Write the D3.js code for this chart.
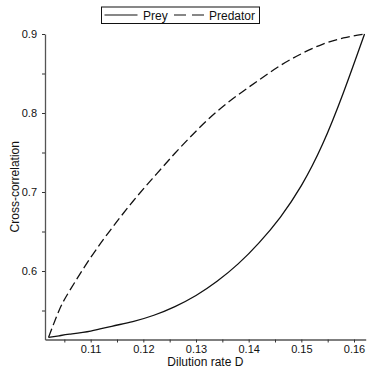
<!DOCTYPE html>
<html>
<head>
<meta charset="utf-8">
<script src="https://cdn.jsdelivr.net/npm/d3@7"></script>
<style>
  body { margin: 0; background: #fff; }
  text { font-family: 'Liberation Sans', Arial, Helvetica, sans-serif; fill: #111; }
</style>
</head>
<body>
<script>
// dilution rate D and cross-correlation values
const dilution = [0.102, 0.104, 0.106, 0.110, 0.114, 0.118, 0.122, 0.126, 0.130,
                  0.134, 0.138, 0.142, 0.146, 0.150, 0.154, 0.158, 0.162];
const prey     = [0.516, 0.518, 0.520, 0.524, 0.530, 0.536, 0.544, 0.555, 0.569,
                  0.587, 0.609, 0.636, 0.668, 0.708, 0.760, 0.826, 0.900];
const predator = [0.516, 0.550, 0.575, 0.617, 0.654, 0.688, 0.719, 0.749, 0.777,
                  0.802, 0.823, 0.842, 0.860, 0.875, 0.887, 0.895, 0.900];
const xMajor = [0.11, 0.12, 0.13, 0.14, 0.15, 0.16];
const xMinor = [0.105, 0.115, 0.125, 0.135, 0.145, 0.155];
const yMajor = [0.6, 0.7, 0.8, 0.9];
const yMinor = [0.55, 0.65, 0.75, 0.85];
const seriesNames = ['Prey', 'Predator'];

const width = 374, height = 374;
const mLeft = 45, mRight = 365.7, mTop = 34, mBottom = 339.5;

const svg = d3.select('body').append('svg')
  .attr('width', width)
  .attr('height', height);

const x = d3.scaleLinear().domain([0.10133, 0.16222]).range([mLeft, mRight]);
const y = d3.scaleLinear().domain([0.5133, 0.9]).range([mBottom, mTop]);

// axes
svg.append('g')
  .attr('transform', 'translate(0,' + mBottom + ')')
  .call(d3.axisBottom(x).tickValues(xMajor).tickSize(3).tickPadding(3).tickFormat(d3.format('.2f')).tickSizeOuter(0));
svg.append('g')
  .attr('transform', 'translate(0,' + mBottom + ')')
  .call(d3.axisBottom(x).tickValues(xMinor).tickSize(3).tickFormat('').tickSizeOuter(0))
  .select('.domain').remove();

svg.append('g')
  .attr('transform', 'translate(' + mLeft + ',0)')
  .call(d3.axisLeft(y).tickValues(yMajor).tickSize(3).tickPadding(5).tickFormat(d3.format('.1f')).tickSizeOuter(0));
svg.append('g')
  .attr('transform', 'translate(' + mLeft + ',0)')
  .call(d3.axisLeft(y).tickValues(yMinor).tickSize(3).tickFormat('').tickSizeOuter(0))
  .select('.domain').remove();

svg.selectAll('.domain').attr('stroke', '#555').attr('stroke-width', 1.3);
svg.selectAll('.tick line').attr('stroke', '#333');
svg.selectAll('.tick text')
  .style('font-size', '11px')
  .style('font-family', "'Liberation Sans', Arial, sans-serif")
  .attr('fill', '#111');

// axis titles
svg.append('text')
  .attr('x', (mLeft + mRight) / 2)
  .attr('y', 366)
  .attr('text-anchor', 'middle')
  .style('font-size', '12px')
  .text('Dilution rate D');

svg.append('text')
  .attr('transform', 'translate(19,' + ((mTop + mBottom) / 2) + ') rotate(-90)')
  .attr('text-anchor', 'middle')
  .style('font-size', '12px')
  .text('Cross-correlation');

// curves
const line = d3.line()
  .x((d, i) => x(dilution[i]))
  .y(d => y(d))
  .curve(d3.curveNatural);

svg.append('path')
  .datum(prey)
  .attr('fill', 'none')
  .attr('stroke', '#111')
  .attr('stroke-width', 1.3)
  .attr('d', line);

svg.append('path')
  .datum(predator)
  .attr('fill', 'none')
  .attr('stroke', '#111')
  .attr('stroke-width', 1.3)
  .attr('stroke-dasharray', '9,4')
  .attr('d', line);

// legend
let legend = svg.append('g').attr('transform', 'translate(101.5,7)');
legend.append('rect')
  .attr('width', 158)
  .attr('height', 16.5)
  .attr('fill', '#fff')
  .attr('stroke', '#111')
  .attr('stroke-width', 1);

legend.append('line')
  .attr('x1', 3).attr('x2', 36).attr('y1', 8).attr('y2', 8)
  .attr('stroke', '#111').attr('stroke-width', 1.2);
legend.append('text')
  .attr('x', 41.5).attr('y', 12.5)
  .style('font-size', '12px')
  .text(seriesNames[0]);

legend.append('line')
  .attr('x1', 72.5).attr('x2', 103).attr('y1', 8).attr('y2', 8)
  .attr('stroke', '#111').attr('stroke-width', 1.2)
  .attr('stroke-dasharray', '12,6');
legend.append('text')
  .attr('x', 107.5).attr('y', 12.5)
  .style('font-size', '12px')
  .text(seriesNames[1]);
</script>
</body>
</html>
